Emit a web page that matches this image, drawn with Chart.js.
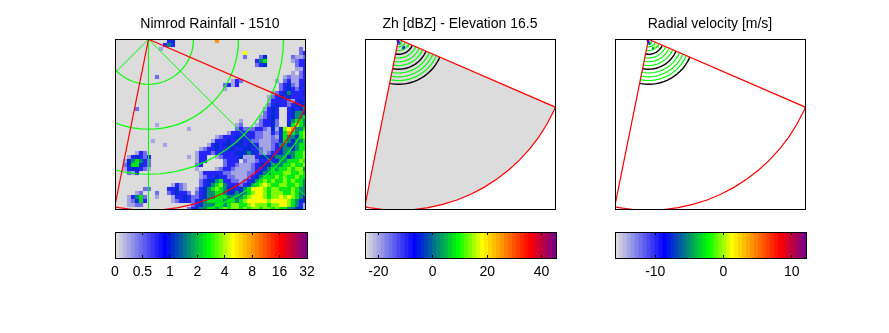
<!DOCTYPE html>
<html>
<head>
<meta charset="utf-8">
<script src="https://cdn.jsdelivr.net/npm/chart.js@4/dist/chart.umd.js"></script>
<style>
body { margin:0; background:#fff; }
canvas { position:absolute; }
</style>
</head>
<body>
<canvas id="map1" style="left:100px;top:0" width="220" height="215"></canvas>
<canvas id="map2" style="left:350px;top:0" width="220" height="215"></canvas>
<canvas id="map3" style="left:600px;top:0" width="220" height="215"></canvas>
<canvas id="bar1" style="left:100px;top:225px" width="230" height="60"></canvas>
<canvas id="bar2" style="left:350px;top:225px" width="230" height="60"></canvas>
<canvas id="bar3" style="left:600px;top:225px" width="230" height="60"></canvas>
<script>
const titles = ["Nimrod Rainfall - 1510", "Zh [dBZ] - Elevation 16.5", "Radial velocity [m/s]"];

// colour bar bands, grey > blue > green > yellow > red > purple
const colormap = [
  "#dcdcdc","#cacadf","#b7b7e2","#a5a5e5","#9393e8","#8080ea","#6e6eee","#5c5cf0",
  "#4949f2","#3737f4","#2525f8","#1212fb","#0000ff","#0017e8","#002ed1","#0046ba",
  "#005da3","#00748b","#008b74","#00a25d","#00ba46","#00d12e","#00e817","#00ff00",
  "#2bff00","#55ff00","#80ff00","#aaff00","#d5ff00","#ffff00","#ffea00","#ffd500",
  "#ffbf00","#ffaa00","#ff9500","#ff8000","#ff6a00","#ff5500","#ff4000","#ff2b00",
  "#ff1500","#ff0000","#ea0015","#d5002b","#bf0040","#aa0055","#95006a","#800080"
];

const rainTickPos = [0, 1, 2, 3, 4, 5, 6, 7];
const rainTickLabels = ["0", "0.5", "1", "2", "4", "8", "16", "32"];
const zhTicks = [-20, 0, 20, 40];
const velTicks = [-10, 0, 10];

// rainfall, one letter per 4px cell, letter = colour bin
const rainBins = { a:3, b:6, c:10, d:14, e:18, f:22, g:26, h:29, i:34, j:40 };
const rainRows = [
  "........ .....cd. ........ .i...... ........ ........",
  "........ ....cec. ........ ........ ........ ........",
  "........ ...a.... ........ ........ ........ ......b.",
  "........ ........ ........ ........ h....... ......bc",
  "........ ........ ........ ........ b...bd.. ....baab",
  "........ ........ ........ ........ ...cef.. ....abcc",
  "........ ........ ........ ........ ...bcd.. .....bcc",
  "........ ........ ........ ........ ........ .....aac",
  "........ ........ ........ ........ ........ ....a.bc",
  "........ ..b..... ........ ........ ........ ..abaabc",
  "........ ........ ........ .....acb ........ a.bcaacc",
  "........ ........ ........ ...bcac. ........ .bcdbacd",
  "........ ........ ........ ...a.... ........ .bcdcbcc",
  "........ ........ ........ ........ .......a bcdecccd",
  "........ ........ ........ ........ ......ab cdcdcccc",
  "........ ........ ........ ........ ......ac cccbacdc",
  "........ ........ ........ ........ ......bc dccbcddd",
  ".....b.. ........ ........ ........ .....acd c..cdcde",
  "........ ........ ........ ........ .....bcd c..cdeed",
  "........ ........ ........ ........ ....abcd c..cdeef",
  "........ ........ ........ .......a ....bccd b..ceffe",
  "........ ..a..... ........ ......ab ...abccd b..dfgfe",
  "........ ........ ..a..... ......bc bbbccbad adghieef",
  "........ ........ ........ ....accc cccbbaac bdfifefg",
  "........ ........ ........ .abcccdc cccbbaab adfeedfg",
  "........ .a...... ........ acccdccd ccbbaaab bdfedeef",
  "........ ....a... .......a cdcddcdd cdccaaab ceeddeff",
  "........ ........ .....abc cdccddcc ddccbaab cdeedeff",
  ".....acb ........ ....accc bcccccdd dedcbabc cdeeeffg",
  "...acdcb c....... ..a.acc. .abccccd aaacdddd eeedeffg",
  "..adefec b....... ....acc. ...bccc. baabcccc deefffgf",
  "..bdffdc b....... ....bc.. ...bccba aabcddde eeffgffg",
  "..acddcb a....... ....a... .abccbaa aabccdef effgfgge",
  "...bac.. ........ .....acc cccbbaaa abbcdeef ffggffgf",
  "........ ........ .....abc cdccbbaa abcdefff gfgffgff",
  "........ ........ .....bcd defccbba bcdefgfg ffgfgffe",
  "........ ......ac ba...bcd efgecccb cdefghgf fggffgfe",
  ".......b b....ccd ba..acde fgfeddcd efhhhgfg gfffgfee",
  ".....ab. ..b..bcd ccb.bcde effedded efghhgfg ggffgfee",
  "...acefb ..a...ac cdcbbcde efffeeee fghhhgfg ghghgfed",
  "...abdfc ......ab cdcbcdef fffeffef ghhhhhgh hhhgfedd",
  "...aabb. ........ ...bcdee effefggf fghgggfg ghhgfeca",
  "........ ........ ..bcdeef fefgfggf gfggfggf gffeedda"
];

// radar overlay, km from the radar, bearings in degrees from north
const mapRings = [50, 100, 150, 200];
const mapRingBearings = [0,5,10,15,20,25,30,35,40,45,50,55,60,65,70,75,80,85,90,95,100,105,110,115,120,125,130,135,
  140,145,150,155,160,165,170,175,180,185,190,195,200,205,210,215,220,225,230,235,240,245,250,255,260,265,270,
  275,280,285,290,295,300,305,310,315,320,325,330,335,340,345,350,355,360];
const mapSpokes = [135, 180, 225];
const spokeLength = 280;
const sectorBearings = [113.4,115,120,125,130,135,140,145,150,155,160,165,170,175,180,185,190,191.4];
const sectorRange = 190;
const greenRings = [4.2, 8.3, 12.5, 20.8, 25, 29.2, 37.5, 41.7, 45.8];
const blackRings = [16.7, 33.3, 50];

// the few radar gates with a signal, next to the radar
const zhGateX = [-1, 0, 1, 6, 5];
const zhGateY = [-1, -3, -5, -9, -10];
const zhGateBin = [47, 12, 8, 12, 16];
const velGateX = [-1, 0, 1, 7, 5];
const velGateY = [-1, -3, -5, -9, -10];
const velGateBin = [46, 12, 16, 26, 18];

const xMin = -37.22, xMax = 173.89, yMin = -188.59, yMax = 0.3;
const cellKm = 4 / 0.9;

function polar(b, r) {
  const a = b * Math.PI / 180;
  return { x: r * Math.sin(a), y: r * Math.cos(a) };
}

function arcLine(bearings, r, color, width) {
  return {
    type: "line",
    data: bearings.map(b => polar(b, r)),
    borderColor: color, borderWidth: width, pointRadius: 0, fill: false
  };
}

function sectorLine(fillColor) {
  const pts = [{ x: 0, y: 0 }].concat(sectorBearings.map(b => polar(b, sectorRange)), [{ x: 0, y: 0 }]);
  return {
    type: "line",
    data: pts, borderColor: "#ff0000", borderWidth: fillColor ? 0 : 1.2, pointRadius: 0,
    fill: fillColor ? "shape" : false, backgroundColor: fillColor || "transparent"
  };
}

function rainCells() {
  const pts = [], cols = [];
  rainRows.forEach((row, r) => {
    row.replace(/ /g, "").split("").forEach((ch, c) => {
      if (ch === ".") return;
      pts.push({ x: xMin + (c + 0.5) * cellKm, y: yMax - (r + 0.5) * cellKm });
      cols.push(colormap[rainBins[ch]]);
    });
  });
  return { data: pts, pointStyle: "rect", pointRadius: 2.9, pointBorderWidth: 0, pointBackgroundColor: cols, showLine: false };
}

function gateCells(xs, ys, bins) {
  return {
    data: xs.map((x, i) => ({ x: x, y: ys[i] })), pointStyle: "rect", pointRadius: 1.6, pointBorderWidth: 0,
    pointBackgroundColor: bins.map(b => colormap[b]), showLine: false
  };
}

const framePlugin = {
  id: "frame",
  beforeDatasetsDraw(chart, args, opts) {
    if (!opts.fill) return;
    const a = chart.chartArea;
    chart.ctx.fillStyle = opts.fill;
    chart.ctx.fillRect(a.left, a.top, a.right - a.left, a.bottom - a.top);
  },
  afterDraw(chart) {
    const a = chart.chartArea, ctx = chart.ctx;
    ctx.save();
    ctx.strokeStyle = "#000";
    ctx.lineWidth = 1;
    ctx.strokeRect(a.left + 0.5, a.top + 0.5, a.right - a.left, a.bottom - a.top);
    ctx.restore();
  }
};

function drawMap(id, title, datasets, fill) {
  new Chart(document.getElementById(id), {
    type: "scatter",
    data: { datasets: datasets },
    plugins: [framePlugin],
    options: {
      responsive: false, animation: false, events: [],
      layout: { padding: { left: 15, right: 15, top: 0, bottom: 6 } },
      plugins: {
        legend: { display: false }, tooltip: { enabled: false },
        frame: { fill: fill },
        title: {
          display: true, text: title, color: "#000",
          font: { family: "Liberation Sans", size: 14, weight: "normal", lineHeight: 1 },
          padding: { top: 17, bottom: 8 }
        }
      },
      scales: {
        x: { display: false, type: "linear", min: xMin, max: xMax },
        y: { display: false, type: "linear", min: yMin, max: yMax }
      }
    }
  });
}

function drawBar(id, lo, hi, width, tickPos, tickLabels) {
  const step = (hi - lo) / colormap.length;
  // each band runs to the axis end, the first dataset is drawn last so go from the far end
  const bands = colormap.map((c, i) => ({
    data: [[lo + i * step, hi]], backgroundColor: c, borderWidth: 0, grouped: false,
    barPercentage: 1, categoryPercentage: 1
  })).reverse();
  const setTicks = s => { s.ticks = tickPos.map(v => ({ value: v })); };
  new Chart(document.getElementById(id), {
    type: "bar",
    data: { labels: [""], datasets: bands },
    plugins: [framePlugin],
    options: {
      indexAxis: "y", responsive: false, animation: false, events: [],
      layout: { padding: { left: 15, right: 230 - 15 - width, top: 7, bottom: 0 } },
      plugins: { legend: { display: false }, tooltip: { enabled: false }, frame: {} },
      scales: {
        y: { display: false },
        x: {
          type: "linear", min: lo, max: hi, position: "bottom",
          afterBuildTicks: setTicks,
          afterFit(s) { s.height = 27; },
          border: { display: false },
          grid: { display: true, drawOnChartArea: false, drawTicks: true, tickLength: -3, color: "#000", z: 1 },
          ticks: {
            color: "#000", maxRotation: 0, padding: 9, autoSkip: false,
            font: { family: "Liberation Sans", size: 14 },
            callback: (v, i) => tickLabels[i]
          }
        },
        x2: {
          type: "linear", min: lo, max: hi, position: "top",
          afterBuildTicks: setTicks,
          afterFit(s) { s.height = 0; },
          border: { display: false },
          grid: { display: true, drawOnChartArea: false, drawTicks: true, tickLength: -3, color: "#000", z: 1 },
          ticks: { display: false }
        }
      }
    }
  });
}

const spokes = mapSpokes.map(b => ({
  type: "line",
  data: [{ x: 0, y: 0 }, polar(b, spokeLength)],
  borderColor: "#00ff00", borderWidth: 1, pointRadius: 0, fill: false
}));

// first dataset in the list ends up on top
drawMap("map1", titles[0], [
  sectorLine(null)
].concat(
  mapRings.map(r => arcLine(mapRingBearings, r, "#00ff00", 1.2)),
  spokes,
  [rainCells()]
), "#dcdcdc");

function sectorRings() {
  return blackRings.map(r => arcLine(sectorBearings, r, "#000000", 1.4))
    .concat(greenRings.map(r => arcLine(sectorBearings, r, "#00ff00", 1.2)));
}

drawMap("map2", titles[1], [gateCells(zhGateX, zhGateY, zhGateBin), sectorLine(null)].concat(
  sectorRings(), [sectorLine("#dcdcdc")]
), null);

drawMap("map3", titles[2], [gateCells(velGateX, velGateY, velGateBin), sectorLine(null)].concat(
  sectorRings()
), null);

drawBar("bar1", 0, 7, 192, rainTickPos, rainTickLabels);
drawBar("bar2", -24.9, 45.3, 191, zhTicks, zhTicks.map(String));
drawBar("bar3", -15.9, 12.1, 191, velTicks, velTicks.map(String));
</script>
</body>
</html>
